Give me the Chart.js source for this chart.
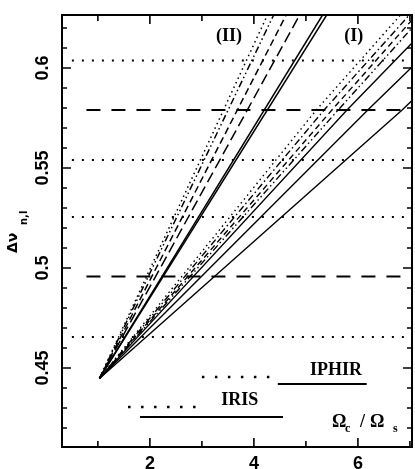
<!DOCTYPE html>
<html>
<head>
<meta charset="utf-8">
<script src="https://cdn.jsdelivr.net/npm/chart.js@4/dist/chart.umd.min.js"></script>
<style>
  html, body { margin: 0; padding: 0; background: #fff; }
</style>
</head>
<body>
<canvas id="fanChart" width="415" height="469"></canvas>
<script>
// tip where all curves start
const tipX = 1.03;
const tipY = 0.4448;

// branch (II): steep curves, x where each one leaves through the top
const branchTwoNames = ['II dotted', 'II dash-dot-dot', 'II dashed', 'II long dash', 'II solid a', 'II solid b'];
const branchTwoTopY = 0.6265;
const branchTwoTopX = [4.26, 4.38, 4.62, 4.88, 5.32, 5.40];

// branch (I): x where each curve crosses 0.579, and y at the right frame
const branchOneNames = ['I dotted', 'I dash-dot', 'I dashed', 'I dash-dot-dot', 'I solid a', 'I solid b', 'I solid c'];
const branchOneMidY = 0.579;
const branchOneMidX = [5.20, 5.35, 5.50, 5.62, 5.79, 6.19, 6.85];
const branchOneEndX = 7.04;
const branchOneEndY = [0.633, 0.628, 0.624, 0.620, 0.6125, 0.6005, 0.5837];

// horizontal reference levels
const dottedLevels = [0.6038, 0.554, 0.5255, 0.4655];
const dashedLevels = [0.579, 0.4957];

// instrument resolution bars
const instrumentNames = ['IRIS', 'IPHIR'];
const instrumentSolidY = [0.4255, 0.4420];
const instrumentSolidFrom = [1.81, 4.46];
const instrumentSolidTo = [4.56, 6.17];
const instrumentDottedY = [0.4305, 0.4455];
const instrumentDottedFrom = [1.58, 3.00];
const instrumentDottedTo = [2.92, 4.40];

// axis ticks
const xTickLabels = [2, 4, 6];
const xMinorTicks = [1, 3, 5, 7];
const yTickLabels = [0.45, 0.5, 0.55, 0.6];
const yMinorTicks = [0.42, 0.43, 0.44, 0.46, 0.47, 0.48, 0.49, 0.51, 0.52, 0.53, 0.54, 0.56, 0.57, 0.58, 0.59, 0.61, 0.62];

const dotted = [1.5, 3.5];
const dashTwo = {
  'II dotted': dotted,
  'II dash-dot-dot': [7, 3, 1.5, 3, 1.5, 3],
  'II dashed': [7, 4],
  'II long dash': [11, 5],
  'II solid a': [],
  'II solid b': []
};
const dashOne = {
  'I dotted': dotted,
  'I dash-dot': [7, 3, 1.5, 3],
  'I dashed': [6, 4],
  'I dash-dot-dot': [7, 3, 1.5, 3, 1.5, 3],
  'I solid a': [],
  'I solid b': [],
  'I solid c': []
};

function line(label, pts, dash, width) {
  return {
    label: label,
    data: pts,
    borderColor: '#000',
    borderWidth: width,
    borderDash: dash,
    pointRadius: 0,
    tension: 0,
    fill: false
  };
}

const datasets = [];

dottedLevels.forEach((v, i) => {
  datasets.push(line('dotted ' + i, [{x: 0.5, y: v}, {x: branchOneEndX, y: v}], [2, 8], 2));
});
dashedLevels.forEach((v, i) => {
  datasets.push(line('dashed ' + i, [{x: 0.78, y: v}, {x: branchOneEndX, y: v}], [14, 11], 2));
});

branchTwoNames.forEach((name, i) => {
  datasets.push(line(name, [{x: tipX, y: tipY}, {x: branchTwoTopX[i], y: branchTwoTopY}], dashTwo[name], 1.5));
});

branchOneNames.forEach((name, i) => {
  datasets.push(line(name, [
    {x: tipX, y: tipY},
    {x: branchOneMidX[i], y: branchOneMidY},
    {x: branchOneEndX, y: branchOneEndY[i]}
  ], dashOne[name], 1.4));
});

instrumentNames.forEach((name, i) => {
  datasets.push(line(name + ' solid', [{x: instrumentSolidFrom[i], y: instrumentSolidY[i]}, {x: instrumentSolidTo[i], y: instrumentSolidY[i]}], [], 2));
  datasets.push(line(name + ' dotted', [{x: instrumentDottedFrom[i], y: instrumentDottedY[i]}, {x: instrumentDottedTo[i], y: instrumentDottedY[i]}], [2.5, 10.5], 2.5));
});

// frame, inward ticks, rotated y labels and the text notes
const framePlugin = {
  id: 'framePlugin',
  afterDraw(chart) {
    const c = chart.ctx;
    const a = chart.chartArea;
    const xs = chart.scales.x;
    const ys = chart.scales.y;
    c.save();
    c.strokeStyle = '#000';
    c.fillStyle = '#000';
    c.lineWidth = 2;
    c.setLineDash([]);
    c.strokeRect(a.left, a.top, a.right - a.left, a.bottom - a.top);

    c.lineWidth = 1.6;
    c.beginPath();
    const xt = (v, len) => {
      const p = xs.getPixelForValue(v);
      c.moveTo(p, a.bottom); c.lineTo(p, a.bottom - len);
      c.moveTo(p, a.top); c.lineTo(p, a.top + len);
    };
    const yt = (v, len) => {
      const p = ys.getPixelForValue(v);
      c.moveTo(a.left, p); c.lineTo(a.left + len, p);
      c.moveTo(a.right, p); c.lineTo(a.right - len, p);
    };
    xTickLabels.forEach(v => xt(v, 9));
    xMinorTicks.forEach(v => xt(v, 6));
    yTickLabels.forEach(v => yt(v, 9));
    yMinorTicks.forEach(v => yt(v, 5));
    c.stroke();

    // y tick labels, turned to read upwards
    c.font = 'bold 18px "Liberation Sans", Arial, sans-serif';
    c.textAlign = 'center';
    c.textBaseline = 'alphabetic';
    yTickLabels.forEach(v => {
      c.save();
      c.translate(48, ys.getPixelForValue(v));
      c.rotate(-Math.PI / 2);
      c.fillText(String(v), 0, 0);
      c.restore();
    });

    // y title
    c.save();
    c.translate(17, 253);
    c.rotate(-Math.PI / 2);
    c.textAlign = 'left';
    c.font = 'bold 14px "DejaVu Sans", sans-serif';
    c.fillText('Δν', 0, 0);
    c.font = 'bold 10px "DejaVu Sans", sans-serif';
    c.fillText('n,l', 28, 10);
    c.restore();

    // notes
    c.font = 'bold 18px "Liberation Serif", "Times New Roman", serif';
    c.textAlign = 'center';
    c.textBaseline = 'middle';
    c.fillText('(II)', xs.getPixelForValue(3.52), ys.getPixelForValue(0.616));
    c.fillText('(I)', xs.getPixelForValue(5.92), ys.getPixelForValue(0.616));
    c.fillText('IPHIR', xs.getPixelForValue(5.58), ys.getPixelForValue(0.449));
    c.fillText('IRIS', xs.getPixelForValue(3.73), ys.getPixelForValue(0.434));

    // Ωc / Ωs
    const ox = xs.getPixelForValue(5.5);
    const oy = ys.getPixelForValue(0.4205);
    c.textAlign = 'left';
    c.textBaseline = 'alphabetic';
    c.fillText('Ω', ox, oy);
    c.fillText('/', ox + 28, oy);
    c.fillText('Ω', ox + 38, oy);
    c.font = 'bold 12px "Liberation Serif", serif';
    c.fillText('c', ox + 13, oy + 5);
    c.fillText('s', ox + 61, oy + 5);
    c.restore();
  }
};

new Chart(document.getElementById('fanChart'), {
  type: 'line',
  data: { datasets: datasets },
  options: {
    responsive: false,
    animation: false,
    devicePixelRatio: 1,
    layout: { padding: { top: 15, right: 3, left: 0, bottom: 0 } },
    plugins: {
      legend: { display: false },
      tooltip: { enabled: false }
    },
    scales: {
      x: {
        type: 'linear',
        min: 0.31,
        max: 7.04,
        grid: { display: false, drawTicks: false },
        border: { display: false },
        ticks: {
          color: '#000',
          font: { family: '"Liberation Sans", Arial, sans-serif', size: 18, weight: 'bold' },
          padding: 6,
          maxRotation: 0,
          autoSkip: false
        },
        afterBuildTicks: s => { s.ticks = xTickLabels.map(v => ({ value: v })); },
        afterFit: s => { s.height = 22; }
      },
      y: {
        type: 'linear',
        min: 0.4105,
        max: 0.6265,
        grid: { display: false, drawTicks: false },
        border: { display: false },
        ticks: { display: false },
        afterFit: s => { s.width = 62; }
      }
    }
  },
  plugins: [framePlugin]
});
</script>
</body>
</html>
